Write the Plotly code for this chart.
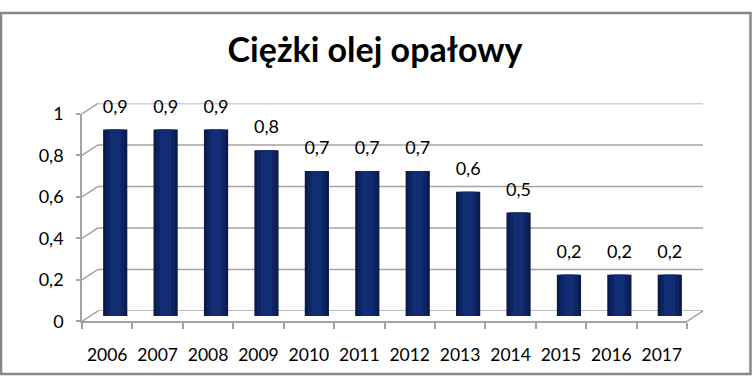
import plotly.graph_objects as go

# ---- data ----
years = ['2006', '2007', '2008', '2009', '2010', '2011', '2012', '2013', '2014', '2015', '2016', '2017']
values = [0.9, 0.9, 0.9, 0.8, 0.7, 0.7, 0.7, 0.6, 0.5, 0.2, 0.2, 0.2]
y_ticks = [0, 0.2, 0.4, 0.6, 0.8, 1]
y_tick_labels = ['0', '0,2', '0,4', '0,6', '0,8', '1']
title_text = 'Ciężki olej opałowy'

# ---- geometry (pixels) ----
W, H = 752, 386
FL, FR = 82, 687          # front x extent
FY0, FY1 = 328, 108       # front y of value 0 and 1
DX, DY = 16, -11          # depth offset to back wall


def px(x):
    return x / W


def py(y):
    return 1 - y / H


def front_y(v):
    return FY0 + (FY1 - FY0) * v


FONT = 'Lato, sans-serif'
GRID = '#a3a3a3'

fig = go.Figure()

# back wall axes (xy) - anchor trace, invisible
fig.add_trace(go.Scatter(x=years, y=values, mode='markers', marker=dict(opacity=0),
                         hoverinfo='skip', showlegend=False, xaxis='x', yaxis='y'))

# bars at mid depth (x2y2) - layered to mimic cylinder shading
for wfrac, col in [(0.48, '#0a1b4c'), (0.37, '#0d2461'), (0.22, '#112d74')]:
    fig.add_trace(go.Bar(x=years, y=values, width=wfrac, marker=dict(color=col, line=dict(width=0)),
                         hoverinfo='skip', showlegend=False, xaxis='x2', yaxis='y2'))

# value labels (text trace above each bar)
value_labels = [f'{v:.1f}'.replace('.', ',') for v in values]
fig.add_trace(go.Scatter(x=years, y=values, mode='markers+text', text=value_labels,
                         textposition='top center', marker=dict(size=18, opacity=0),
                         textfont=dict(size=18, family=FONT, color='black'),
                         hoverinfo='skip', showlegend=False, xaxis='x2', yaxis='y2', cliponaxis=False))

# front axes (x3y3) - anchor trace
fig.add_trace(go.Scatter(x=years, y=values, mode='markers', marker=dict(opacity=0),
                         hoverinfo='skip', showlegend=False, xaxis='x3', yaxis='y3'))

hidden = dict(showgrid=False, zeroline=False, showline=False, showticklabels=False, ticks='')

fig.update_layout(
    width=W, height=H,
    margin=dict(l=0, r=0, t=0, b=0),
    paper_bgcolor='white', plot_bgcolor='rgba(0,0,0,0)',
    barmode='overlay',
    font=dict(family=FONT, color='black', size=17),
    xaxis=dict(domain=[px(FL + DX), px(FR + DX)], type='category', range=[-0.5, 11.5], anchor='y', **hidden),
    yaxis=dict(domain=[py(FY0 + DY), py(FY1 + DY)], range=[0, 1], anchor='x', **hidden),
    xaxis2=dict(domain=[px(FL + DX / 2), px(FR + DX / 2)], type='category', range=[-0.5, 11.5], anchor='y2', **hidden),
    yaxis2=dict(domain=[py(FY0 + DY / 2), py(FY1 + DY / 2)], range=[0, 1], anchor='x2', **hidden),
    xaxis3=dict(domain=[px(FL), px(FR)], type='category', range=[-0.5, 11.5], anchor='y3',
                showgrid=False, zeroline=False, showline=True, linecolor=GRID, linewidth=1.5,
                ticks='outside', ticklen=6, tickcolor=GRID, tickwidth=1.5, tickson='boundaries',
                ticklabelstandoff=17, tickfont=dict(size=17.5)),
    yaxis3=dict(domain=[py(FY0), py(FY1)], range=[0, 1], anchor='x3',
                showgrid=False, zeroline=False, showline=True, linecolor=GRID, linewidth=1.5,
                ticks='outside', ticklen=4, tickcolor=GRID, tickwidth=1.5,
                tickvals=y_ticks, ticktext=y_tick_labels, ticklabelstandoff=9, tickfont=dict(size=18)),
    title=dict(text=title_text, x=px(375), xanchor='center', y=py(40), yanchor='middle',
               xref='paper', yref='paper', font=dict(family=FONT, size=34, color='black', weight='bold')),
)

shapes = []
# back-wall gridlines
for v in y_ticks:
    shapes.append(dict(type='line', xref='x domain', yref='y', x0=0, x1=1, y0=v, y1=v,
                       line=dict(color=GRID, width=1.5), layer='below'))
    # slanted connector from front axis to back wall
    shapes.append(dict(type='line', xref='paper', yref='paper',
                       x0=px(FL), y0=py(front_y(v)), x1=px(FL + DX), y1=py(front_y(v) + DY),
                       line=dict(color=GRID, width=1.5), layer='below'))
# right floor edge
shapes.append(dict(type='line', xref='paper', yref='paper',
                   x0=px(FR), y0=py(front_y(0)), x1=px(FR + DX), y1=py(front_y(0) + DY),
                   line=dict(color=GRID, width=1.5), layer='below'))
# outer chart border
shapes.append(dict(type='rect', xref='paper', yref='paper',
                   x0=px(1), y0=py(384), x1=px(750.5), y1=py(1),
                   line=dict(color='#878787', width=2.5), fillcolor='rgba(0,0,0,0)', layer='above'))
fig.update_layout(shapes=shapes)

fig.write_html('out.html')
